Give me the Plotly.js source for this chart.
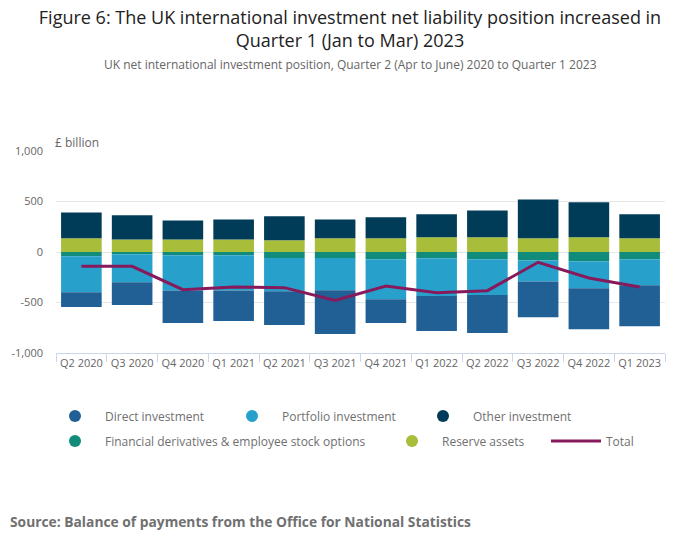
<!DOCTYPE html>
<html>
<head>
<meta charset="utf-8">
<script src="https://cdn.plot.ly/plotly-3.0.1.min.js"></script>
<style>
  body { margin: 0; background: #fff; }
  #chart { width: 700px; height: 549px; }
</style>
</head>
<body>
<div id="chart"></div>
<script>
// 四半期
const quarters = ['Q2 2020', 'Q3 2020', 'Q4 2020', 'Q1 2021', 'Q2 2021', 'Q3 2021',
                  'Q4 2021', 'Q1 2022', 'Q2 2022', 'Q3 2022', 'Q4 2022', 'Q1 2023'];

// £ billion
const directInv    = [-145, -224, -323, -304, -333, -432, -234, -347, -376, -356, -406, -406];
const portfolioInv = [-356, -277, -347, -347, -330, -320, -396, -373, -353, -208, -267, -257];
const otherInv     = [257, 238, 188, 198, 238, 188, 208, 228, 267, 386, 347, 238];
const derivatives  = [-43, -23, -33, -33, -59, -59, -73, -63, -73, -83, -92, -73];
const reserveAssets = [135, 125, 125, 125, 116, 135, 135, 145, 145, 135, 145, 135];
const totalPos     = [-142, -142, -373, -347, -353, -479, -337, -403, -383, -102, -257, -347];

const yTickVals = [-1000, -500, 0, 500, 1000];
const yTickText = ['-1,000', '-500', '0', '500', '1,000'];

const colors = {
  direct: '#206095',
  portfolio: '#27a0cc',
  other: '#003c57',
  deriv: '#118c7b',
  reserve: '#a8bd3a',
  total: '#871a5b'
};

// 積み上げ順: 正は Reserve→Other、負は Derivatives→Portfolio→Direct
function bar(y, color) {
  return {
    type: 'bar', x: quarters, y: y,
    marker: { color: color, line: { width: 0 } },
    showlegend: false, hoverinfo: 'x+y'
  };
}

// 凡例用（丸マーカー）
function legendDot(name, color, legendId) {
  return {
    type: 'scatter', mode: 'markers', x: [null], y: [null],
    name: name, legend: legendId,
    marker: { symbol: 'circle', size: 12, color: color }
  };
}

var data = [
  bar(reserveAssets, colors.reserve),
  bar(derivatives, colors.deriv),
  bar(portfolioInv, colors.portfolio),
  bar(directInv, colors.direct),
  bar(otherInv, colors.other),
  {
    type: 'scatter', mode: 'lines', x: quarters, y: totalPos,
    name: 'Total', legend: 'legend6',
    line: { color: colors.total, width: 3 }
  },
  legendDot('Direct investment', colors.direct, 'legend'),
  legendDot('Portfolio investment', colors.portfolio, 'legend2'),
  legendDot('Other investment', colors.other, 'legend3'),
  legendDot('Financial derivatives & employee stock options', colors.deriv, 'legend4'),
  legendDot('Reserve assets', colors.reserve, 'legend5')
];

const legendFont = { family: 'Open Sans, sans-serif', size: 12, color: '#707071' };

// 凡例ひとつずつ配置（px）
function legendAt(xpx, ypx) {
  return {
    orientation: 'h', xref: 'container', yref: 'container',
    x: xpx / 700, xanchor: 'left', y: 1 - ypx / 549, yanchor: 'middle',
    font: legendFont, itemwidth: 50, bgcolor: 'rgba(0,0,0,0)'
  };
}

// paper 座標換算（プロット領域 151〜353px）
const plotTop = 151, plotBottom = 353, plotLeft = 56, plotRight = 665;
function py(px) { return (plotBottom - px) / (plotBottom - plotTop); }
function pxX(px) { return (px - plotLeft) / (plotRight - plotLeft); }

var layout = {
  width: 700,
  height: 549,
  paper_bgcolor: '#fff',
  plot_bgcolor: '#fff',
  barmode: 'relative',
  bargap: 0.2,
  margin: { l: 56, r: 35, t: 151, b: 196, autoexpand: false },
  font: { family: 'Open Sans, sans-serif', color: '#666' },
  title: {
    text: 'Figure 6: The UK international investment net liability position increased in<br>Quarter 1 (Jan to Mar) 2023',
    font: { family: 'Open Sans, sans-serif', size: 18, color: '#222' },
    x: 0.5, xanchor: 'center', xref: 'container',
    y: 1 - 24 / 549, yanchor: 'middle', yref: 'container'
  },
  xaxis: {
    type: 'category',
    tickson: 'boundaries',
    ticks: 'outside', ticklen: 8, tickcolor: '#ccd6eb',
    showline: true, linecolor: '#ccd6eb', linewidth: 1,
    showgrid: false,
    tickangle: 0,
    tickfont: { size: 11, color: '#666' },
    fixedrange: true
  },
  yaxis: {
    range: [-1000, 1000],
    tickmode: 'array', tickvals: yTickVals, ticktext: yTickText,
    gridcolor: '#e6e6e6', gridwidth: 1,
    zeroline: false,
    tickfont: { size: 11, color: '#666' },
    ticklabelstandoff: 12,
    fixedrange: true
  },
  legend: legendAt(45, 416),
  legend2: legendAt(222, 416),
  legend3: legendAt(413, 416),
  legend4: legendAt(45, 441),
  legend5: legendAt(382, 441),
  legend6: legendAt(546, 441),
  annotations: [
    {
      text: 'UK net international investment position, Quarter 2 (Apr to June) 2020 to Quarter 1 2023',
      xref: 'paper', yref: 'paper', x: pxX(350), xanchor: 'center',
      y: py(64), yanchor: 'middle', showarrow: false,
      font: { size: 12, color: '#666' }
    },
    {
      text: '£ billion', xref: 'paper', yref: 'paper', x: pxX(53), xanchor: 'left',
      y: py(142), yanchor: 'middle', showarrow: false,
      font: { size: 12, color: '#666' }
    },
    {
      text: '<b>Source: Balance of payments from the Office for National Statistics</b>',
      xref: 'paper', yref: 'paper', x: pxX(8), xanchor: 'left',
      y: py(521), yanchor: 'middle', showarrow: false,
      font: { size: 13.8, color: '#707071' }
    }
  ]
};

var config = { staticPlot: false, displayModeBar: false };

Plotly.newPlot('chart', data, layout, config);
</script>
</body>
</html>
